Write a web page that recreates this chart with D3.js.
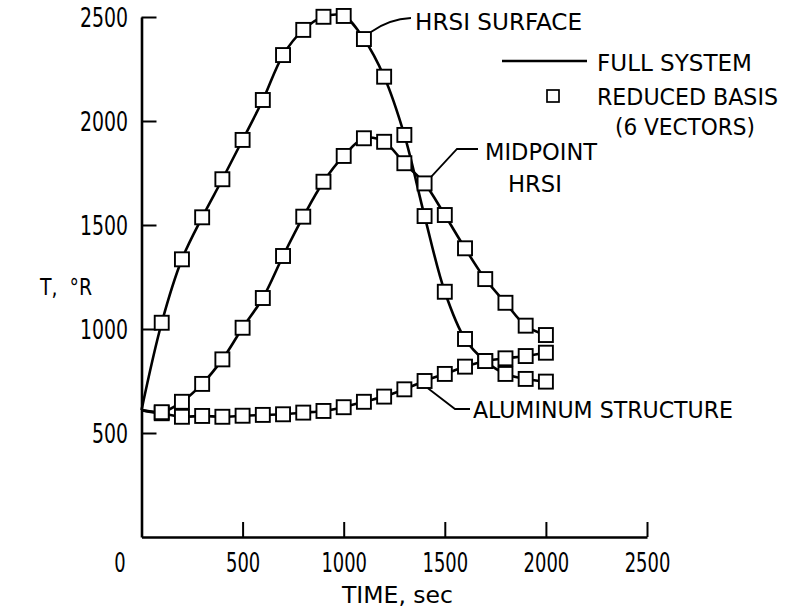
<!DOCTYPE html>
<html><head><meta charset="utf-8">
<script src="https://cdn.jsdelivr.net/npm/d3@7"></script>
<style>
body{margin:0;background:#fff}
svg{display:block}
text{font-family:"Liberation Sans Narrow","DejaVu Sans Condensed","Liberation Sans",sans-serif;fill:#000}
</style>
</head><body>
<svg id="c" width="787" height="611"></svg>
<script>
// ---- data ----
const times      = [0,100,200,300,400,500,600,700,800,900,1000,1100,1200,1300,1400,1500,1600,1700,1800,1900,2000];
const surfaceT   = [610,1030,1335,1537,1720,1909,2101,2317,2438,2501,2505,2394,2213,1933,1543,1179,952,846,784,760,747];
const midpointT  = [610,600,650,736,854,1006,1149,1351,1540,1708,1832,1917,1900,1797,1700,1548,1388,1240,1126,1016,971];
const aluminumT  = [610,595,578,582,578,583,587,590,598,606,624,650,675,710,750,784,819,846,859,870,886];
const xTicks      = [0,500,1000,1500,2000,2500];
const xTickLabels = ["0","500","1000","1500","2000","2500"];
const yTicks      = [500,1000,1500,2000,2500];
const yTickLabels = ["500","1000","1500","2000","2500"];
const legendLabels = ["FULL SYSTEM","REDUCED BASIS","(6 VECTORS)"];
const xTitle = "TIME, sec";
const yTitle = "T, \u00B0R";

// ---- drawing ----
const svg = d3.select("#c");
const x = d3.scaleLinear().domain([0,2500]).range([141.5,647]);
const y = d3.scaleLinear().domain([0,2500]).range([537,17]);
const INK = "#000";

function fitText(sel, w){ sel.attr("textLength", w).attr("lengthAdjust","spacingAndGlyphs"); }

// x axis
const gx = svg.append("g").attr("transform",`translate(0,${y(0)})`)
  .call(d3.axisBottom(x).tickValues(xTicks).tickSizeInner(-15).tickSizeOuter(0).tickPadding(0)
        .tickFormat((d,i)=>xTickLabels[i]));
gx.select(".domain").attr("stroke",INK).attr("stroke-width",2.6);
gx.selectAll(".tick line").attr("stroke",INK).attr("stroke-width",2)
  .attr("display",d=>d===0?"none":null);
gx.selectAll(".tick text").attr("font-size",26).attr("dy",null).attr("y",35)
  .attr("x",d=>d===0?-22:0).attr("fill",INK)
  .each(function(d,i){ fitText(d3.select(this), xTickLabels[i].length*11.4); });

// y axis
const gy = svg.append("g").attr("transform",`translate(${x(0)},0)`)
  .call(d3.axisLeft(y).tickValues(yTicks).tickSizeInner(-15).tickSizeOuter(0).tickPadding(13.5)
        .tickFormat((d,i)=>yTickLabels[i]));
gy.select(".domain").attr("stroke",INK).attr("stroke-width",2.6);
gy.selectAll(".tick line").attr("stroke",INK).attr("stroke-width",2);
gy.selectAll(".tick text").attr("font-size",26).attr("dy","0.36em").attr("fill",INK)
  .each(function(d,i){ fitText(d3.select(this), yTickLabels[i].length*12); });

// axis titles
svg.append("text").attr("x",342).attr("y",603).attr("font-size",23).text(xTitle).call(fitText,111);
svg.append("text").attr("x",40).attr("y",295).attr("font-size",23).attr("xml:space","preserve")
  .text("T,  \u00B0R").call(fitText,52);

// curves (full system)
const line = d3.line().x((d,i)=>x(times[i])).y(d=>y(d)).curve(d3.curveCatmullRom.alpha(0.5));
const series = [aluminumT, midpointT, surfaceT];
svg.append("g").selectAll("path").data(series).join("path")
  .attr("d", line).attr("fill","none").attr("stroke",INK).attr("stroke-width",2.6)
  .attr("stroke-linejoin","round");

// markers (reduced basis)
const S = 14;
series.forEach(vals=>{
  const pts = vals.map((v,i)=>({t:times[i],v})).filter(p=>p.t>0);
  svg.append("g").selectAll("rect").data(pts).join("rect")
    .attr("x",p=>x(p.t)-S/2).attr("y",p=>y(p.v)-S/2)
    .attr("width",S).attr("height",S)
    .attr("fill","#fff").attr("stroke",INK).attr("stroke-width",1.9);
});

// leaders + labels
const lead = svg.append("g").attr("fill","none").attr("stroke",INK).attr("stroke-width",1.8);
// HRSI surface
{
  const sx = x(1100)+7, sy = y(surfaceT[11])-7;
  lead.append("path").attr("d",`M${sx},${sy} Q${sx+18},${sy-13} 411,18`);
  svg.append("text").attr("x",415).attr("y",30).attr("font-size",23).text("HRSI SURFACE").call(fitText,167);
}
// midpoint HRSI
{
  const sx = x(1400)+7, sy = y(midpointT[14])-7;
  lead.append("path").attr("d",`M${sx},${sy} L457,149 L478,149`);
  svg.append("text").attr("x",485).attr("y",160).attr("font-size",23).text("MIDPOINT").call(fitText,112);
  svg.append("text").attr("x",508).attr("y",191.5).attr("font-size",23).text("HRSI").call(fitText,54);
}
// aluminum structure
{
  const sx = x(1400)+3, sy = y(aluminumT[14])+7;
  lead.append("path").attr("d",`M${sx},${sy} L455,409 L470,409`);
  svg.append("text").attr("x",473).attr("y",418).attr("font-size",23).text("ALUMINUM STRUCTURE").call(fitText,260);
}

// legend
svg.append("line").attr("x1",502).attr("x2",587).attr("y1",61).attr("y2",61)
  .attr("stroke",INK).attr("stroke-width",2.4);
svg.append("rect").attr("x",553-6).attr("y",96-6).attr("width",12).attr("height",12)
  .attr("fill","#fff").attr("stroke",INK).attr("stroke-width",1.7);
svg.append("text").attr("x",597).attr("y",71).attr("font-size",23).text(legendLabels[0]).call(fitText,155);
svg.append("text").attr("x",597).attr("y",105).attr("font-size",23).text(legendLabels[1]).call(fitText,181);
svg.append("text").attr("x",615).attr("y",135).attr("font-size",23).text(legendLabels[2]).call(fitText,140);
</script>
</body></html>
